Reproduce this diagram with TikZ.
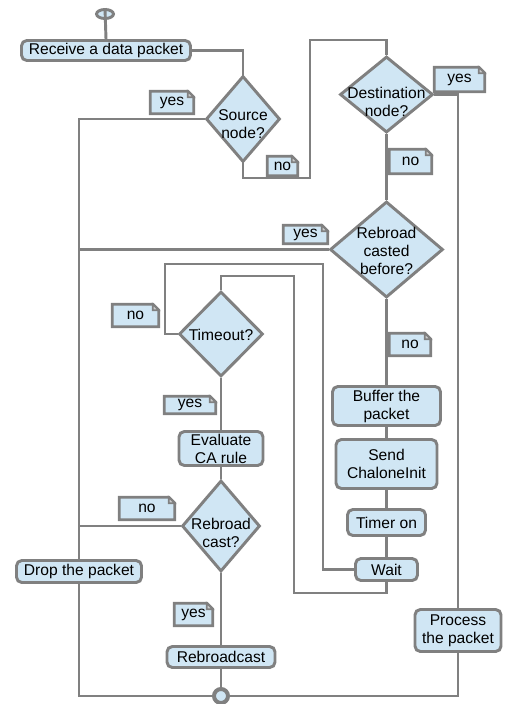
\documentclass[tikz,border=0pt]{standalone}
\usepackage{fontspec}
\setmainfont{Liberation Sans}
\usetikzlibrary{shapes.geometric,calc,backgrounds}
\definecolor{boxfill}{HTML}{D0E6F4}
\definecolor{boxline}{HTML}{808080}
\newcommand\myfont{\fontsize{11.7pt}{13.5pt}\selectfont}
\tikzset{
  sz/.style 2 args={minimum width={(#1-3)*0.75pt}, minimum height={(#2-3)*0.75pt}},
  conn/.style={draw=boxline, line width=2.2pt},
  procbox/.style={draw=boxline, fill=boxfill, line width=2.2pt, rounded corners=4pt, align=center, inner sep=0pt, font=\myfont},
  decbox/.style={diamond, draw=boxline, fill=boxfill, line width=2.2pt, inner sep=0pt, aspect=1},
  dtext/.style={align=center, inner sep=0pt, font=\myfont},
  tagframe/.style={draw=boxline, fill=boxfill, line width=2.2pt, line join=miter},
  tagfold/.style={draw=boxline, fill=boxline!40, line width=1.2pt},
}
\newcommand\tagnote[5]{%
  \path (#2) node[inner sep=0pt, sz={#3}{#4}] (#1) {};
  \draw[tagframe] (#1.south west) -- (#1.north west) -- ($(#1.north east)+(-6,0)$) -- ($(#1.north east)+(0,6)$) -- (#1.south east) -- cycle;
  \draw[tagfold] ($(#1.north east)+(-6,0)$) -- ($(#1.north east)+(-6,6)$) -- ($(#1.north east)+(0,6)$) -- cycle;
  \node[dtext] at (#1) {#5};}
\begin{document}
\begin{tikzpicture}[x=0.75pt,y=-0.75pt]
\useasboundingbox (0,0) rectangle (504,704);
% nodes
\node[ellipse, draw=boxline, fill=boxfill, line width=2.2pt, inner sep=0pt, sz={20}{12}] (start) at (105,14) {};
\node[procbox, sz={172}{23}] (recv) at (106,50.5) {Receive a data packet};
\node[decbox, sz={77}{89}] (src) at (243,119) {};
\node[dtext] (srcT) at (243,124) {Source\\node?};
\node[decbox, sz={96}{79}] (dst) at (386.5,94.5) {};
\node[dtext] (dstT) at (386.5,102) {Destination\\node?};
\node[decbox, sz={116}{99}] (rbb) at (386.5,249.5) {};
\node[dtext] (rbbT) at (386.5,251) {Rebroad\\casted\\before?};
\node[procbox, sz={111}{42}] (buf) at (386.5,406) {Buffer the\\packet};
\node[procbox, sz={104}{52}] (send) at (386.5,464) {Send\\ChaloneInit};
\node[procbox, sz={81}{29}] (timer) at (386.5,522.5) {Timer on};
\node[procbox, sz={65}{25}] (wait) at (386.5,569.5) {Wait};
\node[decbox, sz={87}{88}] (tmo) at (221,334) {};
\node[dtext] (tmoT) at (221,335) {Timeout?};
\node[procbox, sz={87}{37}] (eval) at (221,448.5) {Evaluate\\CA rule};
\node[decbox, sz={81}{94}] (rbc) at (221,526) {};
\node[dtext] (rbcT) at (221,533) {Rebroad\\cast?};
\node[procbox, sz={128}{25}] (drop) at (79,571.5) {Drop the packet};
\node[procbox, sz={111}{24}] (rbcast) at (221,657) {Rebroadcast};
\node[procbox, sz={89}{45}] (proc) at (458,630.5) {Process\\the packet};
\node[circle, draw=boxline, fill=boxfill, line width=3pt, inner sep=0pt, minimum size=10.5pt] (endc) at (221,696) {};
% labels
\tagnote{t1}{172,102.5}{46}{25}{yes}
\tagnote{t2}{282.5,166}{33}{22}{no}
\tagnote{t3}{459.5,79.5}{53}{27}{yes}
\tagnote{t4}{410.5,161.5}{45}{27}{no}
\tagnote{t5}{305.5,234.5}{47}{21}{yes}
\tagnote{t6}{410,344.5}{44}{25}{no}
\tagnote{t7}{135.5,315.5}{49}{25}{no}
\tagnote{t8}{190,405}{54}{20}{yes}
\tagnote{t9}{147,508.5}{58}{25}{no}
\tagnote{t10}{193.5,614.5}{41}{25}{yes}
% connectors
\draw[conn] (start.north) -- (recv.north);
\coordinate (k1) at (310,178);
\coordinate (k2) at (310,40);
\coordinate (la) at (323,264);
\coordinate (lb) at (165,264);
\coordinate (ma) at (294,593);
\coordinate (mb) at (294,276);
\begin{scope}[on background layer]
\fill[white] (0,0) rectangle (504,704);
\draw[conn] (recv.east) -| (src.north);
\draw[conn] (src.west) -| (drop.north);
\draw[conn] (src.south) |- (k1) -- (k2) -| (dst.north);
\draw[conn] (dst.east) -| (proc.north);
\draw[conn] (dst.south) -- (rbb.north);
\draw[conn] (rbb.west) -- (rbb.west -| drop.north);
\draw[conn] (rbb.south) -- (buf.north);
\draw[conn] (buf.south) -- (send.north);
\draw[conn] (send.south) -- (timer.north);
\draw[conn] (timer.south) -- (wait.north);
\draw[conn] (wait.west) -| (la) -- (lb) |- (tmo.west);
\draw[conn] (wait.south) |- (ma) -- (mb) -| (tmo.north);
\draw[conn] (tmo.south) -- (eval.north);
\draw[conn] (eval.south) -- (rbc.north);
\draw[conn] (rbc.west) -- (rbc.west -| drop.north);
\draw[conn] (rbc.south) -- (rbcast.north);
\draw[conn] (rbcast.south) -- (endc.north);
\draw[conn] (drop.south) |- (endc.west);
\draw[conn] (proc.south) |- (endc.east);
\end{scope}
\end{tikzpicture}
\end{document}
